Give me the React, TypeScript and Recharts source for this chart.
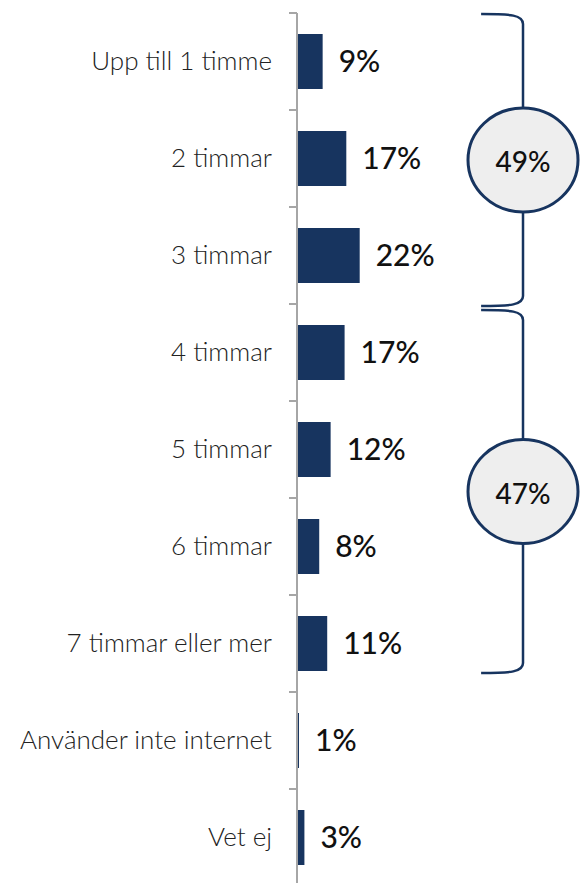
import { BarChart, Bar, XAxis, YAxis, LabelList, ReferenceArea } from "recharts"

const categories = [
  "Upp till 1 timme",
  "2 timmar",
  "3 timmar",
  "4 timmar",
  "5 timmar",
  "6 timmar",
  "7 timmar eller mer",
  "Använder inte internet",
  "Vet ej",
]
const values = [9.0, 17.3, 22.0, 16.7, 11.8, 7.8, 10.6, 0.7, 2.6]

const groupFrom = ["Upp till 1 timme", "4 timmar"]
const groupTo = ["3 timmar", "7 timmar eller mer"]
const groupLabels = ["49%", "47%"]

const data = categories.map((name, i) => ({ name, value: values[i] }))

const NAVY = "#17345f"
const AXIS = "#a6a6a6"
const FONT = "Lato, 'Open Sans', sans-serif"
const TOP = 13
const PLOT_H = 873
const BAND = PLOT_H / categories.length
const AXIS_X = 297

function CategoryTick({ y, payload }: any) {
  const edge = y - BAND / 2
  return (
    <g>
      <line x1={AXIS_X - 8} x2={AXIS_X} y1={edge} y2={edge} stroke={AXIS} strokeWidth={2} />
      <text
        x={AXIS_X - 25}
        y={y - 2}
        textAnchor="end"
        dominantBaseline="central"
        fontFamily={FONT}
        fontWeight={300}
        fontSize={26}
        fill="#222"
      >
        {payload.value}
      </text>
    </g>
  )
}

function Brace(props: any) {
  const { x, y, width, height, padTop, padBottom, label } = props
  const x0 = x
  const xv = x + width
  const top = y + padTop
  const bottom = y + height - padBottom
  const mid = (top + bottom) / 2
  const d = `M${x0},${top} C${x0 + 30},${top} ${xv},${top + 1} ${xv},${top + 10} L${xv},${bottom - 10} C${xv},${bottom - 1} ${x0 + 30},${bottom} ${x0},${bottom}`
  return (
    <g>
      <path d={d} fill="none" stroke={NAVY} strokeWidth={2.5} />
      <ellipse cx={xv} cy={mid} rx={55} ry={52} fill="#eeeeee" stroke={NAVY} strokeWidth={3} />
      <text
        x={xv}
        y={mid + 1}
        textAnchor="middle"
        dominantBaseline="central"
        fontFamily={FONT}
        fontWeight={500}
        fontSize={28}
        fill="#111"
      >
        {label}
      </text>
    </g>
  )
}

const pads = [
  [1, -2],
  [6, 19],
]

export default function App() {
  return (
    <div
      style={{
        position: "fixed",
        left: 0,
        top: 0,
        width: 582,
        height: 883,
        overflow: "hidden",
        background: "#fff",
        fontFamily: FONT,
      }}
    >
      <BarChart
        width={582}
        height={TOP + PLOT_H + 14}
        data={data}
        layout="vertical"
        margin={{ top: TOP, right: 0, bottom: 14, left: 0 }}
      >
        <XAxis type="number" domain={[0, 100]} hide />
        <YAxis
          type="category"
          dataKey="name"
          width={AXIS_X}
          axisLine={{ stroke: AXIS, strokeWidth: 2 }}
          tickLine={false}
          tick={<CategoryTick />}
          interval={0}
        />
        <Bar dataKey="value" fill={NAVY} barSize={55} isAnimationActive={false}>
          <LabelList
            dataKey="value"
            position="right"
            offset={16}
            formatter={(v: any) => `${Math.round(Number(v))}%`}
            style={{ fontFamily: FONT, fontSize: 30, fontWeight: 500, fill: "#111" }}
          />
        </Bar>
        {groupLabels.map((label, i) => (
          <ReferenceArea
            key={label}
            x1={64.6}
            x2={79.3}
            y1={groupFrom[i]}
            y2={groupTo[i]}
            ifOverflow="visible"
            shape={(p: any) => <Brace {...p} padTop={pads[i][0]} padBottom={pads[i][1]} label={label} />}
          />
        ))}
      </BarChart>
    </div>
  )
}
